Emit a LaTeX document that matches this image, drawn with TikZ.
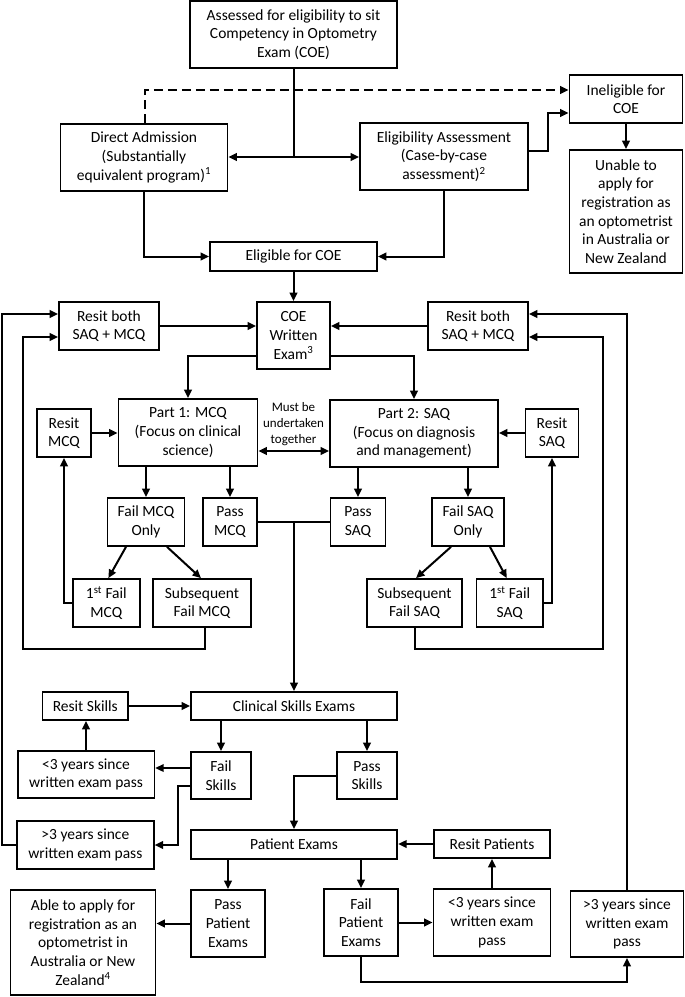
\documentclass[tikz,border=0pt]{standalone}
\usepackage{fontspec}
\setmainfont{Carlito}
\usetikzlibrary{arrows.meta,calc}
\begin{document}
\begin{tikzpicture}[x=1pt,y=-1pt,
  box/.style={draw, line width=1.7pt, inner sep=0pt, align=center,
    font=\fontsize{15.5}{18.6}\selectfont},
  ln/.style={line width=2pt},
  arr/.style={line width=2pt, -{Triangle[length=8.5pt,width=7.5pt]}},
  dbl/.style={line width=2pt, {Triangle[length=8.5pt,width=7.5pt]}-{Triangle[length=8.5pt,width=7.5pt]}},
  note/.style={align=center, inner sep=0pt, font=\fontsize{13}{15.6}\selectfont}]
\useasboundingbox (0,0) rectangle (685,997);

% nodes
\node[box,minimum width=207,minimum height=67] (top) at (293.5,34.5) {Assessed for eligibility to sit\\Competency in Optometry\\Exam (COE)};
\node[box,minimum width=113,minimum height=48] (inel) at (626,99) {Ineligible for\\COE};
\node[box,minimum width=113,minimum height=123] (unable) at (626,211.5) {Unable to\\apply for\\registration as\\an optometrist\\in Australia or\\New Zealand};
\node[box,minimum width=167,minimum height=67] (da) at (144,157.5) {Direct Admission\\(Substantially\\equivalent program)\textsuperscript{1}};
\node[box,minimum width=168,minimum height=67] (ea) at (444,156.5) {Eligibility Assessment\\(Case-by-case\\assessment)\textsuperscript{2}};
\node[box,minimum width=167,minimum height=29] (elig) at (293.5,256.5) {Eligible for COE};
\node[box,minimum width=73,minimum height=67] (coe) at (293.5,335.5) {COE\\Written\\Exam\textsuperscript{3}};
\node[box,minimum width=100,minimum height=48] (rbl) at (109,326) {Resit both\\SAQ + MCQ};
\node[box,minimum width=100,minimum height=48] (rbr) at (478,326) {Resit both\\SAQ + MCQ};
\node[box,minimum width=139,minimum height=67] (p1) at (188,432.5) {Part 1: MCQ\\(Focus on clinical\\science)};
\node[box,minimum width=168,minimum height=67] (p2) at (414,433.5) {Part 2: SAQ\\(Focus on diagnosis\\and management)};
\node[note] (must) at (293.5,424) {Must be\\undertaken\\together};
\node[box,minimum width=54.5,minimum height=48] (rmcq) at (64,433) {Resit\\MCQ};
\node[box,minimum width=53,minimum height=48] (rsaq) at (552,433) {Resit\\SAQ};
\node[box,minimum width=77,minimum height=48] (fmcq) at (146,522) {Fail MCQ\\Only};
\node[box,minimum width=54.5,minimum height=48] (pmcq) at (230,522) {Pass\\MCQ};
\node[box,minimum width=55,minimum height=48] (psaq) at (358,522) {Pass\\SAQ};
\node[box,minimum width=71.4,minimum height=48] (fsaq) at (468,522) {Fail SAQ\\Only};
\node[box,minimum width=66.7,minimum height=48] (f1mcq) at (106.35,603) {1\textsuperscript{st} Fail\\MCQ};
\node[box,minimum width=98,minimum height=48] (sfmcq) at (202,603) {Subsequent\\Fail MCQ};
\node[box,minimum width=95,minimum height=48] (sfsaq) at (414.5,603) {Subsequent\\Fail SAQ};
\node[box,minimum width=66.5,minimum height=48] (f1saq) at (509.75,603) {1\textsuperscript{st} Fail\\SAQ};
\node[box,minimum width=206,minimum height=28] (cse) at (294,706) {Clinical Skills Exams};
\node[box,minimum width=85.4,minimum height=28] (rskills) at (85.3,706) {Resit Skills};
\node[box,minimum width=136.7,minimum height=47] (lt3a) at (86,774.5) {<3 years since\\written exam pass};
\node[box,minimum width=60,minimum height=47] (fskills) at (221,775.5) {Fail\\Skills};
\node[box,minimum width=59.6,minimum height=47] (pskills) at (367,775.5) {Pass\\Skills};
\node[box,minimum width=136.7,minimum height=48] (gt3a) at (85.35,845) {>3 years since\\written exam pass};
\node[box,minimum width=206.6,minimum height=29] (pex) at (294,844.5) {Patient Exams};
\node[box,minimum width=116,minimum height=28] (rpat) at (492,844) {Resit Patients};
\node[box,minimum width=74.2,minimum height=67] (ppat) at (228,923.5) {Pass\\Patient\\Exams};
\node[box,minimum width=145,minimum height=105] (able) at (83,942.5) {Able to apply for\\registration as an\\optometrist in\\Australia or New\\Zealand\textsuperscript{4}};
\node[box,minimum width=73.8,minimum height=67] (fpat) at (361,922.5) {Fail\\Patient\\Exams};
\node[box,minimum width=117,minimum height=67] (lt3b) at (492,922.5) {<3 years since\\written exam\\pass};
\node[box,minimum width=113,minimum height=66] (gt3b) at (627,924) {>3 years since\\written exam\\pass};

% connectors
\coordinate (j1) at (top.south |- 0,157);
\draw[arr] (top.south) -- (j1) -- (j1 -| da.east);
\draw[arr] (j1) -- (j1 -| ea.west);
\draw[arr,dash pattern=on 9pt off 5pt] ([xshift=1pt]da.north) |- (inel.west |- 0,90);
\draw[arr] (ea.east |- 0,151) -- (548,151) |- (inel.west |- 0,113);
\draw[arr] (inel.south) -- (unable.north);
\draw[arr] (da.south) |- (elig.west);
\draw[arr] (ea.south) |- (elig.east);
\draw[arr] (elig.south) -- (coe.north);
\draw[arr] (rbl.east) -- (rbl.east -| coe.west);
\draw[arr] (rbr.west) -- (rbr.west -| coe.east);
\draw[arr] (coe.west |- 0,356) -| (p1.north);
\draw[arr] (coe.east |- 0,356) -| (p2.north);
\draw[dbl] (p1.east |- 0,451) -- (p2.west |- 0,451);
\draw[arr] (rmcq.east) -- (rmcq.east -| p1.west);
\draw[arr] (rsaq.west) -- (rsaq.west -| p2.east);
\draw[arr] (fmcq.north |- p1.south) -- (fmcq.north);
\draw[arr] (pmcq.north |- p1.south) -- (pmcq.north);
\draw[arr] (psaq.north |- p2.south) -- (psaq.north);
\draw[arr] (fsaq.north |- p2.south) -- (fsaq.north);
\draw[ln] (pmcq.east) -- (psaq.west);
\draw[arr] (cse.north |- pmcq.east) -- (cse.north);
\draw[arr] ([xshift=-20pt]fmcq.south) -- ([xshift=2pt]f1mcq.north);
\draw[arr] ([xshift=21pt]fmcq.south) -- ([xshift=-1pt]sfmcq.north);
\draw[arr] ([xshift=-17pt]fsaq.south) -- ([xshift=1.5pt]sfsaq.north);
\draw[arr] ([xshift=22pt]fsaq.south) -- ([xshift=-3pt]f1saq.north);
\draw[arr] (f1mcq.west) -| (rmcq.south);
\draw[arr] (f1saq.east) -| (rsaq.south);
\draw[arr] ([xshift=3pt]sfmcq.south) -- ++(0,21) -| (23,337) -- (rbl.west |- 0,337);
\draw[arr] ([xshift=0.5pt]sfsaq.south) -- ++(0,21) -| (603,337) -- (rbr.east |- 0,337);
\draw[arr] (gt3a.west) -| (2,314) -- (rbl.west |- 0,314);
\draw[arr] (gt3b.north) |- (rbr.east |- 0,314);
\draw[arr] (rskills.east) -- (rskills.east -| cse.west);
\draw[arr] (fskills.north |- cse.south) -- (fskills.north);
\draw[arr] (pskills.north |- cse.south) -- (pskills.north);
\draw[arr] (fskills.west |- 0,768) -- (lt3a.east |- 0,768);
\draw[arr] (lt3a.north) -- (lt3a.north |- rskills.south);
\draw[arr] (fskills.west |- 0,786) -| (178,845) -- (gt3a.east);
\draw[arr] (pskills.west) -| (pex.north);
\draw[arr] (rpat.west) -- (rpat.west -| pex.east);
\draw[arr] (ppat.north |- pex.south) -- (ppat.north);
\draw[arr] (fpat.north |- pex.south) -- (fpat.north);
\draw[arr] (ppat.west) -- (ppat.west -| able.east);
\draw[arr] (fpat.east) -- (fpat.east -| lt3b.west);
\draw[arr] (lt3b.north) -- (lt3b.north |- rpat.south);
\draw[arr] (fpat.south) -- ++(0,25) -| (gt3b.south);
\end{tikzpicture}
\end{document}
